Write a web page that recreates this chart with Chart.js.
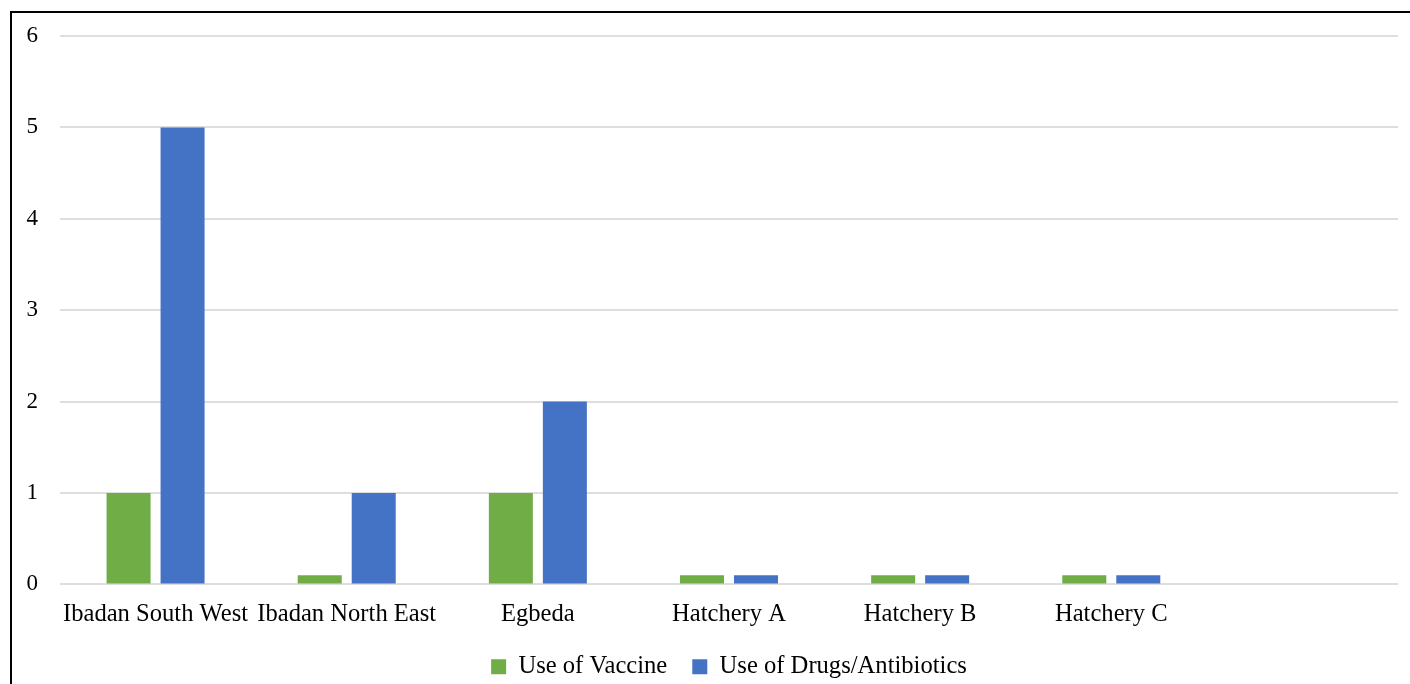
<!DOCTYPE html>
<html>
<head>
<meta charset="utf-8">
<script src="https://cdn.jsdelivr.net/npm/chart.js@4"></script>
<style>
  html, body { margin: 0; padding: 0; background: #fff; }
  #wrap { position: relative; width: 1410px; height: 684px; overflow: hidden; }
  #frame {
    position: absolute; left: 10px; top: 11px; width: 1500px; height: 800px;
    border-left: 2px solid #000; border-top: 2px solid #000; pointer-events: none;
  }
</style>
</head>
<body>
<div id="wrap">
  <canvas id="chart" width="1410" height="684"></canvas>
  <div id="frame"></div>
</div>
<script>
const categories = ['Ibadan South West', 'Ibadan North East', 'Egbeda', 'Hatchery A', 'Hatchery B', 'Hatchery C', ''];
const vaccine = [1, 0.1, 1, 0.1, 0.1, 0.1, null];
const drugs = [5, 1, 2, 0.1, 0.1, 0.1, null];
const yTicks = [0, 1, 2, 3, 4, 5, 6];

const FONT = 'Liberation Serif, Times New Roman, serif';

const chart = new Chart(document.getElementById('chart'), {
  type: 'bar',
  data: {
    labels: categories,
    datasets: [
      { label: 'Use of Vaccine', data: vaccine, backgroundColor: '#70ad47' },
      { label: 'Use of Drugs/Antibiotics', data: drugs, backgroundColor: '#4472c4' },
    ],
  },
  options: {
    responsive: false,
    animation: false,
    categoryPercentage: 0.565,
    barPercentage: 0.815,
    layout: { padding: { top: 36, right: 12, bottom: -5, left: 0 } },
    plugins: {
      legend: {
        position: 'bottom',
        fullSize: false,
        labels: {
          font: { family: FONT, size: 24.6 },
          color: '#000',
          boxWidth: 15,
          boxHeight: 15,
          padding: 25,
        },
      },
      tooltip: { enabled: false },
    },
    scales: {
      x: {
        afterFit: (s) => { s.height = 45; },
        grid: { display: false, drawTicks: false },
        border: { display: false },
        ticks: {
          font: { family: FONT, size: 24.6 },
          color: '#000',
          autoSkip: false,
          maxRotation: 0,
          padding: 15,
        },
      },
      y: {
        min: 0,
        max: 6,
        afterFit: (s) => { s.width = 60; },
        afterBuildTicks: (s) => { s.ticks = yTicks.map((v) => ({ value: v })); },
        grid: { color: '#dedede', lineWidth: 2, drawTicks: false },
        border: { display: false },
        ticks: {
          font: { family: FONT, size: 23 },
          color: '#000',
          padding: 22,
        },
      },
    },
  },
});
</script>
</body>
</html>
